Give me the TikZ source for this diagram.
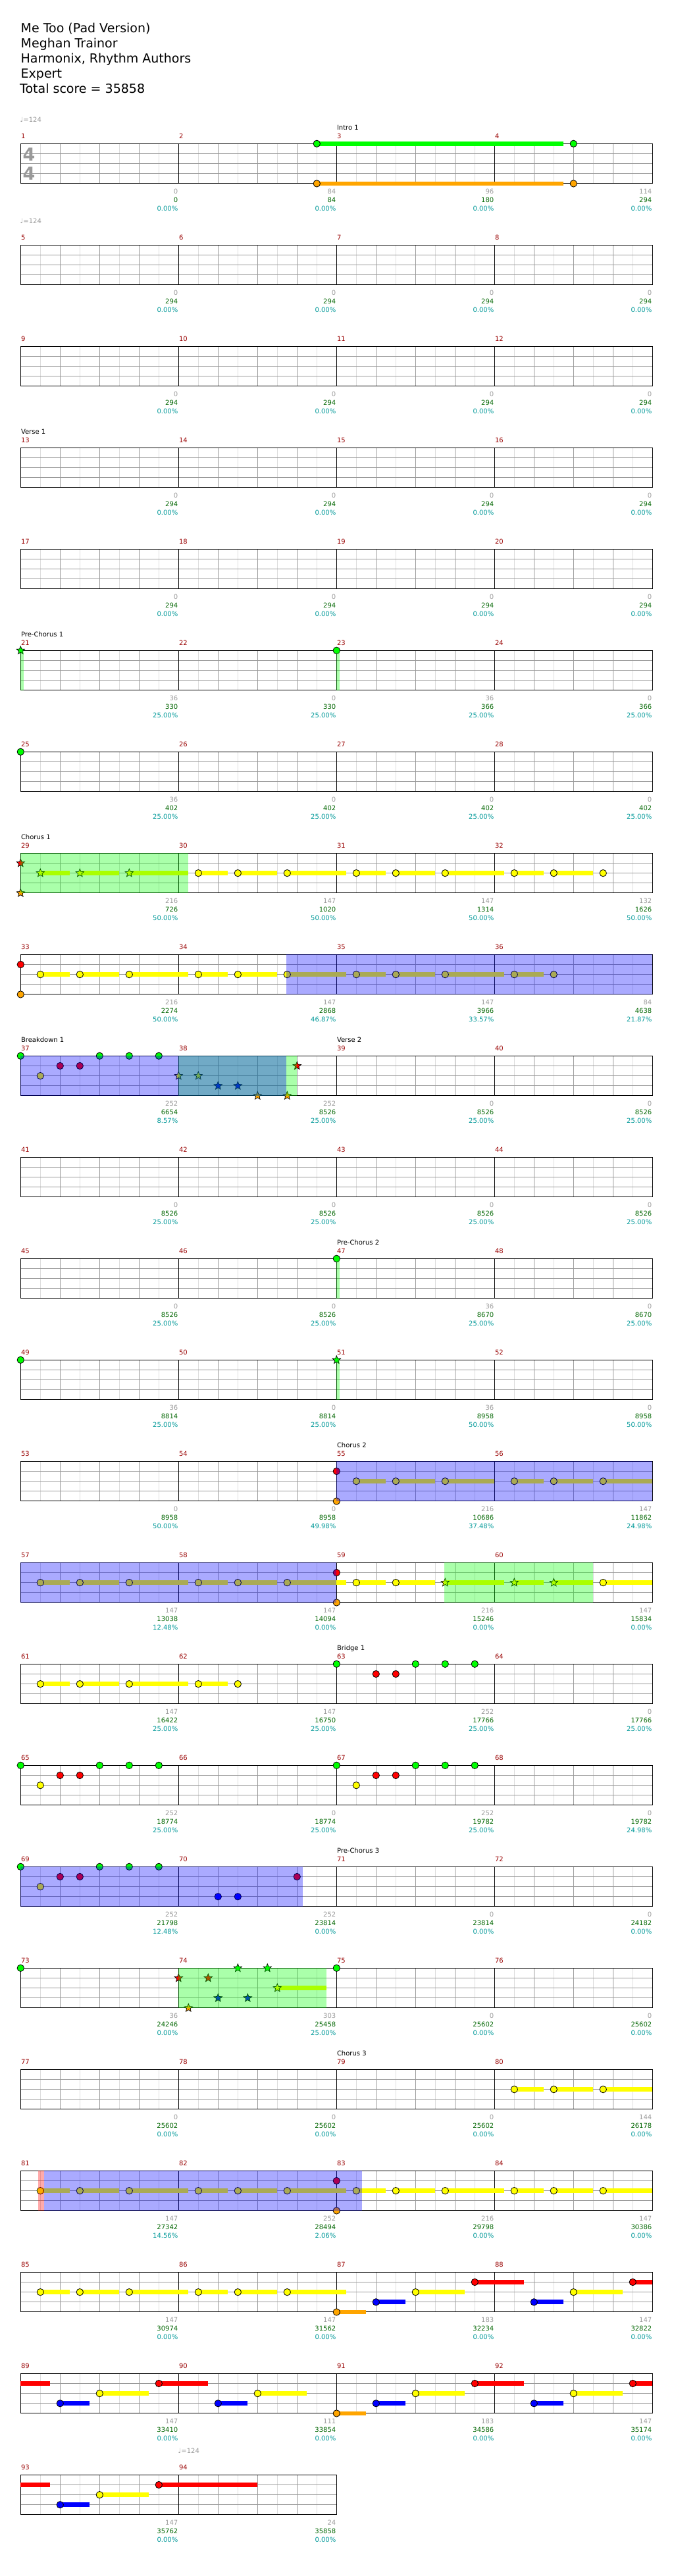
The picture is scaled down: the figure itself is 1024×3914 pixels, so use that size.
\documentclass[tikz,border=0pt]{standalone}
\usepackage{fontspec}
\setmainfont{DejaVu Sans}
\usetikzlibrary{shapes.geometric}

\definecolor{ngreen}{HTML}{00FF00}
\definecolor{nred}{HTML}{FF0000}
\definecolor{nyellow}{HTML}{FFFF00}
\definecolor{nblue}{HTML}{0000FF}
\definecolor{norange}{HTML}{FFA500}
\definecolor{barnum}{HTML}{990000}
\definecolor{ptsgray}{HTML}{999999}
\definecolor{cumgreen}{HTML}{006600}
\definecolor{pctteal}{HTML}{009999}
\definecolor{halfgray}{HTML}{DDDDDD}
\definecolor{beatgray}{HTML}{999999}

\tikzset{
  halfline/.style={draw=halfgray, line width=1pt},
  beatline/.style={draw=beatgray, line width=1pt},
  barline/.style={draw=black, line width=1pt},
  gemline/.style={draw=black, line width=0.8pt},
  stargem/.style={star, star points=5, star point ratio=2.3, minimum size=13pt,
    inner sep=0pt, draw=black, line width=0.7pt},
  smalltext/.style={inner sep=0pt, font=\fontsize{10}{12}\selectfont},
  headtext/.style={inner sep=0pt, anchor=base west, font=\fontsize{19}{23}\selectfont},
  onrow/.style={shift={(31.3,{218.3+154*#1})}}
}

% note on a lane: beat, lane, colour, sustain length in beats
\newcommand\gn[4]{%
  \ifdim#4pt>0pt
    \fill[#3] ({60*(#1)},{15.15*#2-3.35}) rectangle ({60*((#1)+(#4))},{15.15*#2+3.35});
  \fi
  \filldraw[gemline, fill=#3] ({60*(#1)},{15.15*#2}) circle (5.2);}
% sustain piece only: from beat, to beat, lane, colour
\newcommand\gt[4]{%
  \fill[#4] ({60*(#1)},{15.15*#3-3.35}) rectangle ({60*(#2)},{15.15*#3+3.35});}
% star note: beat, lane, colour, sustain length
\newcommand\gs[4]{%
  \ifdim#4pt>0pt
    \fill[#3] ({60*(#1)},{15.15*#2-3.35}) rectangle ({60*((#1)+(#4))},{15.15*#2+3.35});
  \fi
  \node[stargem, fill=#3] at ({60*(#1)},{15.15*#2}) {};}
% shaded zone over the staff: from beat, to beat, colour
\newcommand\zone[3]{%
  \fill[#3, fill opacity=0.333] ({60*(#1)},0) rectangle ({60*(#2)},60.6);}

\begin{document}
\begin{tikzpicture}[x=1pt, y=-1pt]
\useasboundingbox (0,0) rectangle (1024,3914);
\fill[white] (0,0) rectangle (1024,3914);

% header
\node[headtext] (title) at (31.5,49) {Me Too (Pad Version)};
\node[headtext] (artist) at (31.5,72) {Meghan Trainor};
\node[headtext] (authors) at (31.5,95) {Harmonix, Rhythm Authors};
\node[headtext] (level) at (31.5,118) {Expert};
\node[headtext] (total) at (30,141) {Total score = 35858};

% tempo marks
\node[smalltext, anchor=base west, text=ptsgray] (tempoa) at (30.5,185) {♩=124};
\node[smalltext, anchor=base west, text=ptsgray] (tempob) at (30.5,339) {♩=124};
\node[smalltext, anchor=base west, text=ptsgray] (tempoc) at (270.5,3727) {♩=124};

% staves
\foreach \r in {0,...,23}{
  \ifnum\r=23 \def\nk{16}\else\def\nk{32}\fi
  \begin{scope}[onrow=\r]
    \foreach \k in {1,...,\nk}{
      \pgfmathtruncatemacro\odd{mod(\k,2)}
      \ifnum\odd=1
        \draw[halfline] (30*\k,0) -- (30*\k,60.6);
      \else
        \draw[beatline] (30*\k,0) -- (30*\k,60.6);
      \fi
    }
    \foreach \l in {1,2,3}
      \draw[beatline] (0,15.15*\l) -- (30*\nk,15.15*\l);
    \pgfmathtruncatemacro\nm{\nk/8-1}
    \foreach \b in {1,...,\nm}
      \draw[barline] (240*\b,0) -- (240*\b,60.6);
    \draw[barline] (0,0) rectangle (30*\nk,60.6);
  \end{scope}
}

% time signature
\node[inner sep=0pt, text=ptsgray, font=\fontsize{27}{27}\bfseries\selectfont] (tsig) at (44,234.6) {4};
\node[inner sep=0pt, text=ptsgray, font=\fontsize{27}{27}\bfseries\selectfont] (tsigb) at (44,263.8) {4};

% ---- notes, row by row
\begin{scope}[onrow=0]
  \gn{7.5}{0}{ngreen}{6.25} \gn{7.5}{4}{norange}{6.25}
  \gn{14}{0}{ngreen}{0} \gn{14}{4}{norange}{0}
\end{scope}
\begin{scope}[onrow=5]
  \gs{0}{0}{ngreen}{0} \zone{0}{0.08}{ngreen}
  \gn{8}{0}{ngreen}{0} \zone{8}{8.08}{ngreen}
\end{scope}
\begin{scope}[onrow=6]
  \gn{0}{0}{ngreen}{0}
\end{scope}
\begin{scope}[onrow=7]
  \gs{0}{1}{nred}{0} \gs{0}{4}{norange}{0}
  \gs{0.5}{2}{nyellow}{0.75} \gs{1.5}{2}{nyellow}{1} \gs{2.75}{2}{nyellow}{1.5}
  \foreach \m in {4,8}{
    \gn{\m+0.5}{2}{nyellow}{0.75} \gn{\m+1.5}{2}{nyellow}{1} \gn{\m+2.75}{2}{nyellow}{1.5}}
  \gn{12.5}{2}{nyellow}{0.75} \gn{13.5}{2}{nyellow}{1} \gn{14.75}{2}{nyellow}{0}
  \zone{0}{4.24}{ngreen}
\end{scope}
\begin{scope}[onrow=8]
  \gn{0}{1}{nred}{0} \gn{0}{4}{norange}{0}
  \foreach \m in {0,4,8}{
    \gn{\m+0.5}{2}{nyellow}{0.75} \gn{\m+1.5}{2}{nyellow}{1} \gn{\m+2.75}{2}{nyellow}{1.5}}
  \gn{12.5}{2}{nyellow}{0.75} \gn{13.5}{2}{nyellow}{0}
  \zone{6.73}{16}{nblue}
\end{scope}
\begin{scope}[onrow=9]
  \gn{0}{0}{ngreen}{0} \gn{0.5}{2}{nyellow}{0}
  \gn{1}{1}{nred}{0} \gn{1.5}{1}{nred}{0}
  \gn{2}{0}{ngreen}{0} \gn{2.75}{0}{ngreen}{0} \gn{3.5}{0}{ngreen}{0}
  \gs{4}{2}{nyellow}{0} \gs{4.5}{2}{nyellow}{0}
  \gs{5}{3}{nblue}{0} \gs{5.5}{3}{nblue}{0}
  \gs{6}{4}{norange}{0} \gs{6.75}{4}{norange}{0}
  \gs{7}{1}{nred}{0}
  \zone{4}{7}{ngreen} \zone{0}{6.73}{nblue}
\end{scope}
\begin{scope}[onrow=11]
  \gn{8}{0}{ngreen}{0} \zone{8}{8.08}{ngreen}
\end{scope}
\begin{scope}[onrow=12]
  \gn{0}{0}{ngreen}{0}
  \gs{8}{0}{ngreen}{0} \zone{8}{8.08}{ngreen}
\end{scope}
\begin{scope}[onrow=13]
  \gn{8}{1}{nred}{0} \gn{8}{4}{norange}{0}
  \foreach \m in {8,12}{
    \gn{\m+0.5}{2}{nyellow}{0.75} \gn{\m+1.5}{2}{nyellow}{1} \gn{\m+2.75}{2}{nyellow}{1.25}}
  \zone{8}{16}{nblue}
\end{scope}
\begin{scope}[onrow=14]
  \foreach \m in {0,4}{
    \gn{\m+0.5}{2}{nyellow}{0.75} \gn{\m+1.5}{2}{nyellow}{1} \gn{\m+2.75}{2}{nyellow}{1.5}}
  \gn{8}{1}{nred}{0} \gn{8}{4}{norange}{0}
  \gn{8.5}{2}{nyellow}{0.75} \gn{9.5}{2}{nyellow}{1} \gs{10.75}{2}{nyellow}{1.5}
  \gs{12.5}{2}{nyellow}{0.75} \gs{13.5}{2}{nyellow}{1} \gn{14.75}{2}{nyellow}{1.25}
  \zone{10.73}{14.5}{ngreen} \zone{0}{8}{nblue}
\end{scope}
\begin{scope}[onrow=15]
  \gn{0.5}{2}{nyellow}{0.75} \gn{1.5}{2}{nyellow}{1} \gn{2.75}{2}{nyellow}{1.5}
  \gn{4.5}{2}{nyellow}{0.75} \gn{5.5}{2}{nyellow}{0}
  \gn{8}{0}{ngreen}{0} \gn{9}{1}{nred}{0} \gn{9.5}{1}{nred}{0}
  \gn{10}{0}{ngreen}{0} \gn{10.75}{0}{ngreen}{0} \gn{11.5}{0}{ngreen}{0}
\end{scope}
\begin{scope}[onrow=16]
  \foreach \m in {0,8}{
    \gn{\m}{0}{ngreen}{0} \gn{\m+0.5}{2}{nyellow}{0}
    \gn{\m+1}{1}{nred}{0} \gn{\m+1.5}{1}{nred}{0}
    \gn{\m+2}{0}{ngreen}{0} \gn{\m+2.75}{0}{ngreen}{0} \gn{\m+3.5}{0}{ngreen}{0}}
\end{scope}
\begin{scope}[onrow=17]
  \gn{0}{0}{ngreen}{0} \gn{0.5}{2}{nyellow}{0}
  \gn{1}{1}{nred}{0} \gn{1.5}{1}{nred}{0}
  \gn{2}{0}{ngreen}{0} \gn{2.75}{0}{ngreen}{0} \gn{3.5}{0}{ngreen}{0}
  \gn{5}{3}{nblue}{0} \gn{5.5}{3}{nblue}{0} \gn{7}{1}{nred}{0}
  \zone{0}{7.15}{nblue}
\end{scope}
\begin{scope}[onrow=18]
  \gn{0}{0}{ngreen}{0}
  \gs{4}{1}{nred}{0} \gs{4.25}{4}{norange}{0} \gs{4.75}{1}{nred}{0}
  \gs{5}{3}{nblue}{0} \gs{5.75}{3}{nblue}{0}
  \gs{5.5}{0}{ngreen}{0} \gs{6.25}{0}{ngreen}{0}
  \gs{6.5}{2}{nyellow}{1.25}
  \gn{8}{0}{ngreen}{0}
  \zone{4}{7.75}{ngreen}
\end{scope}
\begin{scope}[onrow=19]
  \gn{12.5}{2}{nyellow}{0.75} \gn{13.5}{2}{nyellow}{1} \gn{14.75}{2}{nyellow}{1.25}
\end{scope}
\begin{scope}[onrow=20]
  \foreach \m in {0,4}{
    \gn{\m+0.5}{2}{nyellow}{0.75} \gn{\m+1.5}{2}{nyellow}{1} \gn{\m+2.75}{2}{nyellow}{1.5}}
  \gn{8}{1}{nred}{0} \gn{8}{4}{norange}{0}
  \gn{8.5}{2}{nyellow}{0.75} \gn{9.5}{2}{nyellow}{1} \gn{10.75}{2}{nyellow}{1.5}
  \gn{12.5}{2}{nyellow}{0.75} \gn{13.5}{2}{nyellow}{1} \gn{14.75}{2}{nyellow}{1.25}
  \zone{0.44}{0.6}{nred} \zone{0.6}{8.64}{nblue}
\end{scope}
\begin{scope}[onrow=21]
  \foreach \m in {0,4}{
    \gn{\m+0.5}{2}{nyellow}{0.75} \gn{\m+1.5}{2}{nyellow}{1} \gn{\m+2.75}{2}{nyellow}{1.5}}
  \gn{8}{4}{norange}{0.75} \gn{9}{3}{nblue}{0.75} \gn{10}{2}{nyellow}{1.25} \gn{11.5}{1}{nred}{1.25}
  \gn{13}{3}{nblue}{0.75} \gn{14}{2}{nyellow}{1.25} \gn{15.5}{1}{nred}{0.5}
\end{scope}
\begin{scope}[onrow=22]
  \gt{0}{0.75}{1}{nred}
  \gn{1}{3}{nblue}{0.75} \gn{2}{2}{nyellow}{1.25} \gn{3.5}{1}{nred}{1.25}
  \gn{5}{3}{nblue}{0.75} \gn{6}{2}{nyellow}{1.25}
  \gn{8}{4}{norange}{0.75} \gn{9}{3}{nblue}{0.75} \gn{10}{2}{nyellow}{1.25} \gn{11.5}{1}{nred}{1.25}
  \gn{13}{3}{nblue}{0.75} \gn{14}{2}{nyellow}{1.25} \gn{15.5}{1}{nred}{0.5}
\end{scope}
\begin{scope}[onrow=23]
  \gt{0}{0.75}{1}{nred}
  \gn{1}{3}{nblue}{0.75} \gn{2}{2}{nyellow}{1.25} \gn{3.5}{1}{nred}{2.5}
\end{scope}

% measure numbers
\foreach \m in {1,...,94}{
  \pgfmathtruncatemacro\rr{(\m-1)/4}
  \pgfmathtruncatemacro\cc{mod(\m-1,4)}
  \node[smalltext, anchor=base west, text=barnum] (bar\m) at ({31.8+240*\cc},{218.3+154*\rr-7.5}) {\m};
}

% section names
\foreach \m/\txt in {3/Intro 1, 13/Verse 1, 21/Pre-Chorus 1, 29/Chorus 1, 37/Breakdown 1,
    39/Verse 2, 47/Pre-Chorus 2, 55/Chorus 2, 63/Bridge 1, 71/Pre-Chorus 3, 79/Chorus 3}{
  \pgfmathtruncatemacro\rr{(\m-1)/4}
  \pgfmathtruncatemacro\cc{mod(\m-1,4)}
  \node[smalltext, anchor=base west] (sec\m) at ({31.8+240*\cc},{218.3+154*\rr-20.5}) {\txt};
}

% measure scores, running totals, percentages
\foreach \m/\s/\c/\p in {
  1/0/0/0.00, 2/84/84/0.00, 3/96/180/0.00, 4/114/294/0.00,
  5/0/294/0.00, 6/0/294/0.00, 7/0/294/0.00, 8/0/294/0.00,
  9/0/294/0.00, 10/0/294/0.00, 11/0/294/0.00, 12/0/294/0.00,
  13/0/294/0.00, 14/0/294/0.00, 15/0/294/0.00, 16/0/294/0.00,
  17/0/294/0.00, 18/0/294/0.00, 19/0/294/0.00, 20/0/294/0.00,
  21/36/330/25.00, 22/0/330/25.00, 23/36/366/25.00, 24/0/366/25.00,
  25/36/402/25.00, 26/0/402/25.00, 27/0/402/25.00, 28/0/402/25.00,
  29/216/726/50.00, 30/147/1020/50.00, 31/147/1314/50.00, 32/132/1626/50.00,
  33/216/2274/50.00, 34/147/2868/46.87, 35/147/3966/33.57, 36/84/4638/21.87,
  37/252/6654/8.57, 38/252/8526/25.00, 39/0/8526/25.00, 40/0/8526/25.00,
  41/0/8526/25.00, 42/0/8526/25.00, 43/0/8526/25.00, 44/0/8526/25.00,
  45/0/8526/25.00, 46/0/8526/25.00, 47/36/8670/25.00, 48/0/8670/25.00,
  49/36/8814/25.00, 50/0/8814/25.00, 51/36/8958/50.00, 52/0/8958/50.00,
  53/0/8958/50.00, 54/0/8958/49.98, 55/216/10686/37.48, 56/147/11862/24.98,
  57/147/13038/12.48, 58/147/14094/0.00, 59/216/15246/0.00, 60/147/15834/0.00,
  61/147/16422/25.00, 62/147/16750/25.00, 63/252/17766/25.00, 64/0/17766/25.00,
  65/252/18774/25.00, 66/0/18774/25.00, 67/252/19782/25.00, 68/0/19782/24.98,
  69/252/21798/12.48, 70/252/23814/0.00, 71/0/23814/0.00, 72/0/24182/0.00,
  73/36/24246/0.00, 74/303/25458/25.00, 75/0/25602/0.00, 76/0/25602/0.00,
  77/0/25602/0.00, 78/0/25602/0.00, 79/0/25602/0.00, 80/144/26178/0.00,
  81/147/27342/14.56, 82/252/28494/2.06, 83/216/29798/0.00, 84/147/30386/0.00,
  85/147/30974/0.00, 86/147/31562/0.00, 87/183/32234/0.00, 88/147/32822/0.00,
  89/147/33410/0.00, 90/111/33854/0.00, 91/183/34586/0.00, 92/147/35174/0.00,
  93/147/35762/0.00, 94/24/35858/0.00}{
  \pgfmathtruncatemacro\rr{(\m-1)/4}
  \pgfmathtruncatemacro\cc{mod(\m-1,4)}
  \pgfmathsetmacro\xx{31.3+240*(\cc+1)-0.8}
  \pgfmathsetmacro\yy{218.3+154*\rr}
  \node[smalltext, anchor=base east, text=ptsgray] (pts\m) at (\xx,{\yy+76.3}) {\s};
  \node[smalltext, anchor=base east, text=cumgreen] (cum\m) at (\xx,{\yy+89.3}) {\c};
  \node[smalltext, anchor=base east, text=pctteal] (pct\m) at (\xx,{\yy+102.3}) {\p\%};
}
\end{tikzpicture}
\end{document}
